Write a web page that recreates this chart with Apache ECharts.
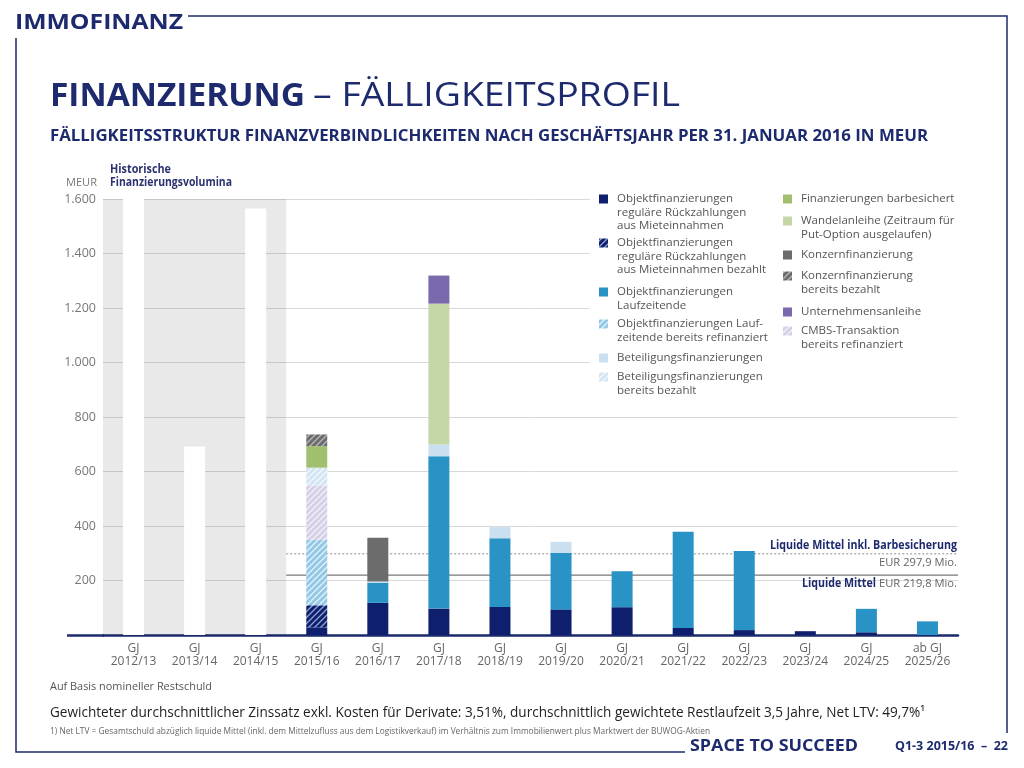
<!DOCTYPE html>
<html><head><meta charset="utf-8">
<script src="https://cdn.jsdelivr.net/npm/echarts@6/dist/echarts.min.js"></script>
<style>html,body{margin:0;padding:0;background:#fff}#c{width:1024px;height:768px}</style>
</head><body><div id="c"></div>
<script>
// ---------- DATA ----------
const categories = ['2012/13','2013/14','2014/15','2015/16','2016/17','2017/18','2018/19','2019/20','2020/21','2021/22','2022/23','2023/24','2024/25','2025/26'];
const catLabels = ['GJ\n2012/13','GJ\n2013/14','GJ\n2014/15','GJ\n2015/16','GJ\n2016/17','GJ\n2017/18','GJ\n2018/19','GJ\n2019/20','GJ\n2020/21','GJ\n2021/22','GJ\n2022/23','GJ\n2023/24','GJ\n2024/25','ab GJ\n2025/26'];
const historicBand      = [1600,1600,1600,null,null,null,null,null,null,null,null,null,null,null];
const historicVolumes   = [1600, 692,1565,null,null,null,null,null,null,null,null,null,null,null];
const objRegular        = [null,null,null,  28, 118,  97, 103,  94, 102,  26,  18,  14,  10,null];
const objRegularPaid    = [null,null,null,  81,null,null,null,null,null,null,null,null,null,null];
const objMaturity       = [null,null,null,null,  74, 559, 252, 208, 132, 353, 290,null,  86,  50];
const objMaturityRefi   = [null,null,null, 241,null,null,null,null,null,null,null,null,null,null];
const cmbsRefi          = [null,null,null, 199,null,null,null,null,null,null,null,null,null,null];
const equityFin         = [null,null,null,null,   4,  43,  41,  40,null,null,null,null,null,null];
const equityFinPaid     = [null,null,null,  65,null,null,null,null,null,null,null,null,null,null];
const cashCollateral    = [null,null,null,  79,null,null,null,null,null,null,null,null,null,null];
const convertible       = [null,null,null,null,null, 517,null,null,null,null,null,null,null,null];
const groupFin          = [null,null,null,null, 161,null,null,null,null,null,null,null,null,null];
const groupFinPaid      = [null,null,null,  43,null,null,null,null,null,null,null,null,null,null];
const corporateBond     = [null,null,null,null,null, 103,null,null,null,null,null,null,null,null];
const liquidityStart = 3, liquidityEnd = 14;
const liquidity = 219.8;
const liquidityInclCollateral = 297.9;

const legendLeft = [
  'Objektfinanzierungen\nreguläre Rückzahlungen\naus Mieteinnahmen',
  'Objektfinanzierungen\nreguläre Rückzahlungen\naus Mieteinnahmen bezahlt',
  'Objektfinanzierungen\nLaufzeitende',
  'Objektfinanzierungen Lauf-\nzeitende bereits refinanziert',
  'Beteiligungsfinanzierungen',
  'Beteiligungsfinanzierungen\nbereits bezahlt'
];
const legendRight = [
  'Finanzierungen barbesichert',
  'Wandelanleihe (Zeitraum für\nPut-Option ausgelaufen)',
  'Konzernfinanzierung',
  'Konzernfinanzierung\nbereits bezahlt',
  'Unternehmensanleihe',
  'CMBS-Transaktion\nbereits refinanziert'
];

// ---------- STYLE ----------
const NAVY = '#1d2a6e';
function hatch(base, stripe){
  const s = 6, c = document.createElement('canvas'); c.width = c.height = s;
  const x = c.getContext('2d'); x.fillStyle = base; x.fillRect(0,0,s,s);
  x.strokeStyle = stripe; x.lineWidth = 1.3; x.beginPath();
  x.moveTo(0,s); x.lineTo(s,0); x.moveTo(-s/2,s/2); x.lineTo(s/2,-s/2);
  x.moveTo(s/2,s*1.5); x.lineTo(s*1.5,s/2); x.stroke();
  return {image:c, repeat:'repeat'};
}
const C = {
  navy:'#0e1f6e', navyH:hatch('#0e1f6e','rgba(170,185,230,0.85)'),
  blue:'#2a93c6', blueH:hatch('#92c8e6','#e6f2fa'),
  cmbsH:hatch('#d6cfe8','#f3f0f8'),
  eq:'#cadff0', eqH:hatch('#d3e5f3','#f4f9fd'),
  green:'#a0c070', wandel:'#c5d6a7',
  gray:'#6c6c6c', grayH:hatch('#6c6c6c','#b8b8b8'),
  purple:'#7a69ac'
};
const leftColors  = [C.navy, C.navyH, C.blue, C.blueH, C.eq, C.eqH];
const rightColors = [C.green, C.wandel, C.gray, C.grayH, C.purple, C.cmbsH];
const leftY  = [199, 243, 292, 324, 358, 377];
const rightY = [199, 221, 255, 276, 312, 331];

const mctx = document.createElement('canvas').getContext('2d');
function fitText(text, x, y, w, size, weight, color, family, align){
  const font = weight + ' ' + size + 'px ' + family;
  mctx.font = font;
  const sx = w / mctx.measureText(text).width;
  return {type:'text', x:x, y:y, scaleX:sx, z:10,
    style:{text:text, font:font, fill:color, textAlign:align||'left', textVerticalAlign:'middle', align:align||'left', verticalAlign:'middle'}};
}
const FAM = "'Open Sans', 'Noto Sans', sans-serif";

const graphics = [];
// frame
graphics.push({type:'polyline', z:10, shape:{points:[[188,16],[1007,16],[1007,733]]}, style:{stroke:NAVY, lineWidth:1.5, fill:null}});
graphics.push({type:'polyline', z:10, shape:{points:[[16,38],[16,752],[685,752]]}, style:{stroke:NAVY, lineWidth:1.5, fill:null}});
// texts
graphics.push(fitText('IMMOFINANZ', 15, 23, 168, 22, 'bold', NAVY, FAM));
graphics.push(fitText('FINANZIERUNG', 50, 97, 255, 33, 'bold', NAVY, FAM));
graphics.push(fitText('– FÄLLIGKEITSPROFIL', 313, 97, 367, 33, 'normal', NAVY, FAM));
graphics.push(fitText('FÄLLIGKEITSSTRUKTUR FINANZVERBINDLICHKEITEN NACH GESCHÄFTSJAHR PER 31. JANUAR 2016 IN MEUR', 50, 136, 878, 16, 'bold', NAVY, FAM));
graphics.push(fitText('Historische', 110, 170, 61, 11.5, 'bold', '#2b3370', FAM));
graphics.push(fitText('Finanzierungsvolumina', 110, 183, 122, 11.5, 'bold', '#2b3370', FAM));
graphics.push(fitText('MEUR', 97, 183, 31, 11.5, 'normal', '#777', FAM, 'right'));
graphics.push(fitText('Auf Basis nomineller Restschuld', 50, 687, 162, 10, 'normal', '#555', FAM));
graphics.push(fitText('Gewichteter durchschnittlicher Zinssatz exkl. Kosten für Derivate: 3,51%, durchschnittlich gewichtete Restlaufzeit 3,5 Jahre, Net LTV: 49,7%¹', 50, 713, 875, 14, 'normal', '#222', FAM));
graphics.push(fitText('1) Net LTV = Gesamtschuld abzüglich liquide Mittel (inkl. dem Mittelzufluss aus dem Logistikverkauf) im Verhältnis zum Immobilienwert plus Marktwert der BUWOG-Aktien', 50, 731, 660, 9.5, 'normal', '#666', FAM));
graphics.push(fitText('SPACE TO SUCCEED', 690, 746, 168, 16, 'bold', NAVY, FAM));
graphics.push(fitText('Q1-3 2015/16  –  22', 895, 746, 113, 12.5, 'bold', NAVY, FAM));
// liquidity labels
graphics.push(fitText('Liquide Mittel inkl. Barbesicherung', 957, 546, 187, 11.5, 'bold', NAVY, FAM, 'right'));
graphics.push(fitText('EUR 297,9 Mio.', 957, 563, 78, 11.5, 'normal', '#666', FAM, 'right'));
graphics.push(fitText('EUR 219,8 Mio.', 957, 584, 78, 11.5, 'normal', '#666', FAM, 'right'));
graphics.push(fitText('Liquide Mittel', 876, 584, 74, 11.5, 'bold', NAVY, FAM, 'right'));
// axis line extension
graphics.push({type:'line', z:10, shape:{x1:67,y1:635.5,x2:104,y2:635.5}, style:{stroke:'#1a2a6c', lineWidth:2.5}});
// legend backdrop
graphics.push({type:'rect', z:1, shape:{x:590,y:190,width:369,height:210}, style:{fill:'#fff'}});
function legendCol(names, colors, ys, ix, tx){
  names.forEach((n,i)=>{
    graphics.push({type:'rect', z:10, shape:{x:ix, y:ys[i]-4.5, width:9, height:9}, style:{fill:colors[i]}});
    graphics.push({type:'text', z:10, x:tx, y:ys[i]-7, style:{text:n, font:'normal 11.5px '+FAM, fill:'#555', lineHeight:13.5, textVerticalAlign:'top', verticalAlign:'top'}});
  });
}
legendCol(legendLeft, leftColors, leftY, 599, 617);
legendCol(legendRight, rightColors, rightY, 783, 801);

function bar(name, data, color){
  return {name:name, type:'bar', stack:'a', data:data, barWidth:21, z:2, silent:true, itemStyle:{color:color}};
}
function liqLine(val, style){
  return {type:'line', xAxisIndex:2, data:[[liquidityStart,val],[liquidityEnd,val]], symbol:'none', z:1, silent:true, lineStyle:style};
}

const option = {
  animation:false,
  grid:{left:103, right:66, top:199, bottom:133},
  xAxis:[
    {type:'category', data:categories,
     axisLine:{lineStyle:{color:'#1a2a6c', width:2.5}},
     axisTick:{length:32, lineStyle:{color:'#a0a0a0'}, interval:function(i){return i>0;}},
     axisLabel:{formatter:function(v,i){return catLabels[i];}, color:'#666', fontSize:12, lineHeight:13, margin:7, fontFamily:FAM, interval:0}},
    {type:'category', data:categories, show:false},
    {type:'value', min:0, max:14, show:false}
  ],
  yAxis:{type:'value', min:0, max:1600, interval:200,
    axisLine:{show:false}, axisTick:{show:false},
    splitLine:{lineStyle:{color:'#d9d9d9'}},
    axisLabel:{color:'#777', fontSize:12.5, margin:7, fontFamily:FAM,
      formatter:function(v){return v===0?'':v.toLocaleString('de-DE');}}},
  graphic:{elements:graphics},
  series:[
    {type:'bar', xAxisIndex:1, data:historicBand, barWidth:'100%', z:1, silent:true, itemStyle:{color:'rgba(0,0,0,0.085)'}},
    liqLine(liquidityInclCollateral, {color:'#8a8a8a', width:1, type:[2,2]}),
    liqLine(liquidity, {color:'#555', width:1}),
    bar('hist', historicVolumes, '#ffffff'),
    bar('objRegular', objRegular, C.navy),
    bar('objRegularPaid', objRegularPaid, C.navyH),
    bar('objMaturity', objMaturity, C.blue),
    bar('objMaturityRefi', objMaturityRefi, C.blueH),
    bar('cmbsRefi', cmbsRefi, C.cmbsH),
    bar('equityFin', equityFin, C.eq),
    bar('equityFinPaid', equityFinPaid, C.eqH),
    bar('cashCollateral', cashCollateral, C.green),
    bar('convertible', convertible, C.wandel),
    bar('groupFin', groupFin, C.gray),
    bar('groupFinPaid', groupFinPaid, C.grayH),
    bar('corporateBond', corporateBond, C.purple)
  ]
};
const chart = echarts.init(document.getElementById('c'));
chart.setOption(option);
</script></body></html>
